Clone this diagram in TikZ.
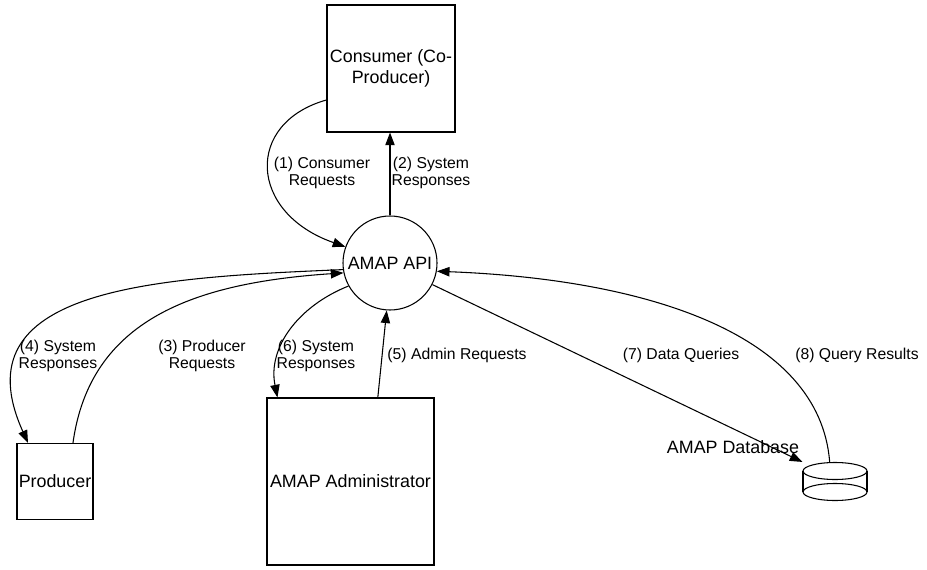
\documentclass[tikz,border=0pt]{standalone}
\usepackage{fontspec}
\setmainfont{Liberation Sans}
\usetikzlibrary{arrows.meta}

\begin{document}
\begin{tikzpicture}[x=0.75pt, y=-0.75pt, line width=0.8pt,
    box/.style={draw, inner sep=0pt, align=center, font=\fontsize{13.4}{16}\selectfont},
    proc/.style={draw, circle, minimum size=70.5pt, inner sep=0pt, font=\fontsize{13.4}{16}\selectfont},
    elbl/.style={inner sep=0pt, align=center, font=\fontsize{11.8}{13}\selectfont},
    flow/.style={-{Triangle[length=9.5pt,width=7pt]}}
    ]
    \useasboundingbox (0,0) rectangle (927,570);

    \node[box, minimum width=96pt, minimum height=95.25pt] (cons) at (391,68.5) {Consumer (Co-\\Producer)};
    \node[proc] (api) at (390,263) {AMAP API};
    \node[box, minimum size=57pt] (prod) at (55,481.5) {Producer};
    \node[box, minimum size=125.25pt] (adm) at (350.5,481.5) {AMAP Administrator};
    \node[minimum width=48pt, minimum height=28.5pt, inner sep=0pt] (db) at (835,481.5) {};
    \node[box, draw=none] (dbname) at (733,447) {AMAP Database};

    % data store
    \draw (835,471) ellipse [x radius=32, y radius=8.5];
    \draw (835,492) ellipse [x radius=32, y radius=8.5];
    \draw (803,471) -- (803,492) (867,471) -- (867,492);

    \draw[flow] (cons.206) .. controls +(-82,23) and +(-97,-34) .. (api.160);
    \draw[flow] (api.north) -- (api.north |- cons.south);
    \draw[flow] (prod.65) .. controls +(17,-123) and +(-150,10) .. (api.192);
    \draw[flow] (api.188) .. controls +(-190,8) and +(-70,-155) .. (prod.125);
    \draw[flow] (adm.72) -- (api.266);
    \draw[flow] (api.209) .. controls +(-50,20) and +(-10,-50) .. (adm.131);
    \draw[flow] (api.-27) -- (db.north west);
    \draw[flow] ([xshift=-4pt]db.north) .. controls +(-10,-128) and +(210,8) .. (api.-10);

    \node[elbl] (l1) at (322,173) {(1) Consumer\\Requests};
    \node[elbl] (l2) at (431,173) {(2) System\\Responses};
    \node[elbl] (l3) at (202,356) {(3) Producer\\Requests};
    \node[elbl] (l4) at (58,356) {(4) System\\Responses};
    \node[elbl] (l5) at (457,355) {(5) Admin Requests};
    \node[elbl] (l6) at (316,356) {(6) System\\Responses};
    \node[elbl] (l7) at (681,355) {(7) Data Queries};
    \node[elbl] (l8) at (857,355) {(8) Query Results};
\end{tikzpicture}
\end{document}
